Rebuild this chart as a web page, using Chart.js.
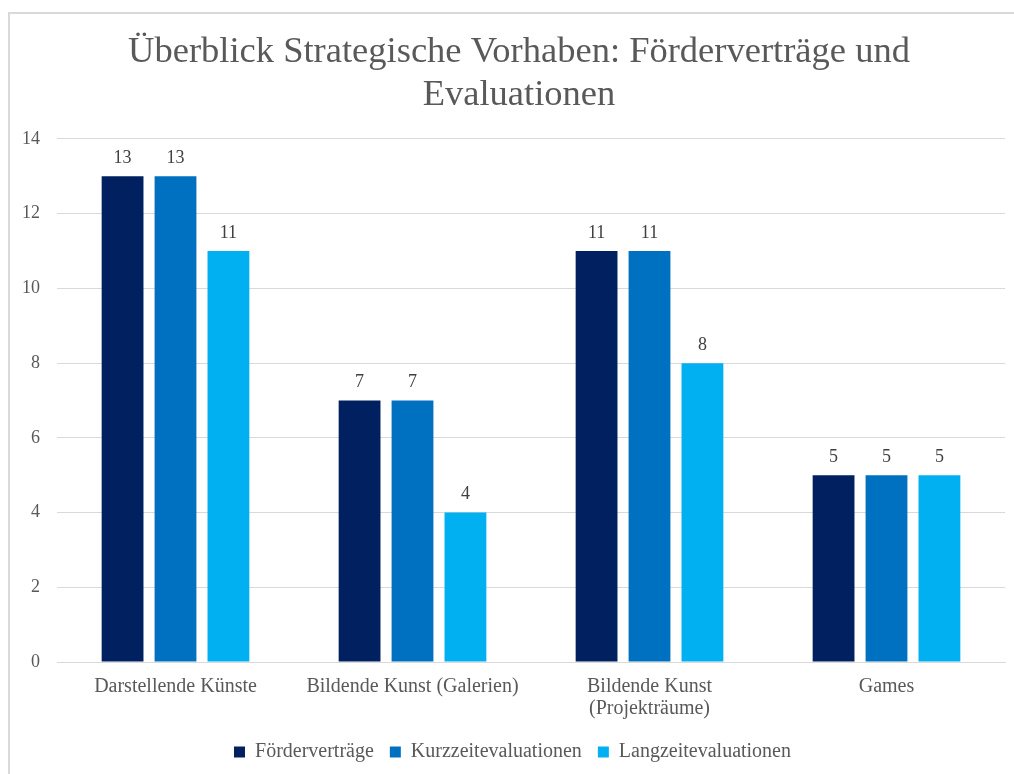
<!DOCTYPE html>
<html>
<head>
<meta charset="utf-8">
<script src="https://cdn.jsdelivr.net/npm/chart.js@4.4.0/dist/chart.umd.min.js"></script>
<style>
  html, body { margin: 0; padding: 0; background: #ffffff; overflow: hidden; }
  #frame { position: absolute; left: 8px; top: 12px; width: 1100px; height: 900px; border: 2px solid #d9d9d9; box-sizing: border-box; }
  #wrap { position: absolute; left: 0; top: 0; width: 1014px; height: 774px; }
</style>
</head>
<body>
<div id="frame"></div>
<div id="wrap"><canvas id="c" width="1014" height="774"></canvas></div>
<script>
const titleLines = ["Überblick Strategische Vorhaben: Förderverträge und", "Evaluationen"];
const categories = [["Darstellende Künste"], ["Bildende Kunst (Galerien)"], ["Bildende Kunst", "(Projekträume)"], ["Games"]];
const seriesNames = ["Förderverträge", "Kurzzeitevaluationen", "Langzeitevaluationen"];
const foerdervertraege = [13, 7, 11, 5];
const kurzzeitevaluationen = [13, 7, 11, 5];
const langzeitevaluationen = [11, 4, 8, 5];
const seriesColors = ["#002060", "#0070c0", "#00b0f0"];
const yTicks = [0, 2, 4, 6, 8, 10, 12, 14];

const FONT = "'Liberation Serif', 'DejaVu Serif', serif";
const TITLE_SIZE = 36.5;
const TITLE_LH = 1.178;
const TITLE_PAD_TOP = 13;
const TITLE_CENTER_X = 519;

const valueLabels = {
  id: 'valueLabels',
  afterDatasetsDraw(chart) {
    const ctx = chart.ctx;
    ctx.save();
    ctx.font = "18px " + FONT;
    ctx.fillStyle = "#404040";
    ctx.textAlign = "center";
    ctx.textBaseline = "bottom";
    chart.data.datasets.forEach((ds, i) => {
      const meta = chart.getDatasetMeta(i);
      meta.data.forEach((bar, j) => {
        ctx.fillText(String(ds.data[j]), bar.x, bar.y - 9);
      });
    });
    ctx.restore();
  }
};

const centeredTitle = {
  id: 'centeredTitle',
  afterDraw(chart) {
    const tb = chart.titleBlock;
    const ctx = chart.ctx;
    ctx.save();
    ctx.font = TITLE_SIZE + "px " + FONT;
    ctx.fillStyle = "#595959";
    ctx.textAlign = "center";
    ctx.textBaseline = "middle";
    const lh = TITLE_SIZE * TITLE_LH;
    titleLines.forEach((line, i) => {
      ctx.fillText(line, TITLE_CENTER_X, tb.top + TITLE_PAD_TOP + lh * (i + 0.5));
    });
    ctx.restore();
  }
};

new Chart(document.getElementById('c'), {
  type: 'bar',
  data: {
    labels: categories,
    datasets: [
      { label: seriesNames[0], data: foerdervertraege, backgroundColor: seriesColors[0] },
      { label: seriesNames[1], data: kurzzeitevaluationen, backgroundColor: seriesColors[1] },
      { label: seriesNames[2], data: langzeitevaluationen, backgroundColor: seriesColors[2] }
    ]
  },
  options: {
    responsive: false,
    animation: false,
    devicePixelRatio: 1,
    layout: { padding: { left: 20, right: 9, top: 18, bottom: 2 } },
    datasets: { bar: { categoryPercentage: 0.67, barPercentage: 0.79 } },
    plugins: {
      title: {
        display: true,
        text: titleLines,
        color: "rgba(0,0,0,0)",
        font: { family: FONT, size: TITLE_SIZE, weight: 'normal', lineHeight: TITLE_LH },
        padding: { top: TITLE_PAD_TOP, bottom: 22 }
      },
      legend: {
        position: 'bottom',
        labels: {
          color: "#595959",
          font: { family: FONT, size: 20 },
          boxWidth: 11,
          boxHeight: 11,
          padding: 16
        }
      },
      tooltip: { enabled: false }
    },
    scales: {
      x: {
        grid: { display: false },
        border: { display: true, color: "#d9d9d9", width: 1 },
        ticks: { color: "#595959", font: { family: FONT, size: 20, lineHeight: 1.1 }, padding: 6, maxRotation: 0, autoSkip: false }
      },
      y: {
        min: 0,
        max: 14,
        afterBuildTicks(scale) { scale.ticks = yTicks.map(v => ({ value: v })); },
        afterFit(scale) { scale.width = 37; },
        grid: { color: "#d9d9d9", lineWidth: 1, drawTicks: false },
        border: { display: false },
        ticks: { color: "#595959", font: { family: FONT, size: 18 }, padding: 17 }
      }
    }
  },
  plugins: [valueLabels, centeredTitle]
});
</script>
</body>
</html>
